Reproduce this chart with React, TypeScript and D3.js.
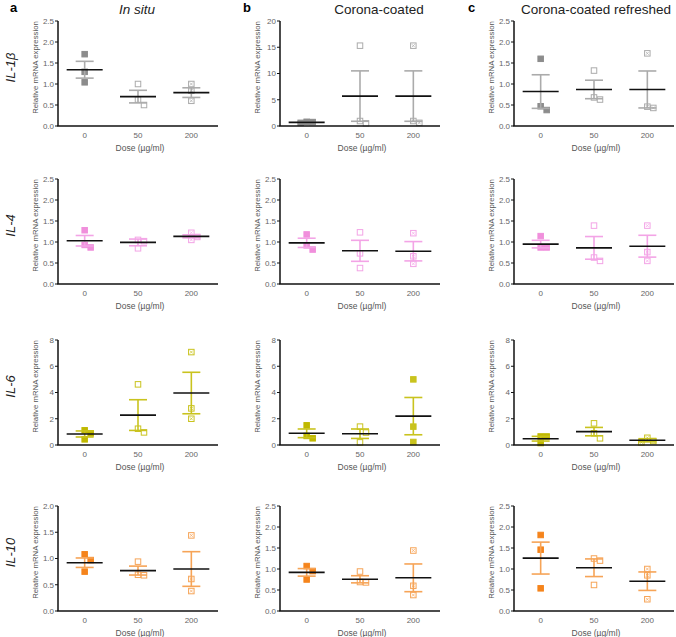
import React from 'react';
import * as d3 from 'd3';

const doses = ['0', '50', '200'];
const columnTitles = ['In situ', 'Corona-coated', 'Corona-coated refreshed'];
const columnLetters = ['a', 'b', 'c'];
const genes = ['IL-1β', 'IL-4', 'IL-6', 'IL-10'];

// y-axis maximum for each gene (row) and condition (column)
const yMaxes = [
  [2.5, 20, 2.5],
  [2.5, 2.5, 2.5],
  [8, 8, 8],
  [2.0, 2.5, 2.5],
];

// replicate values: [column][dose][replicate]
const il1bPoints = [
  [[1.71, 1.29, 1.04], [1.0, 0.63, 0.5], [1.0, 0.84, 0.6]],
  [[0.75, 0.6, 0.8], [15.3, 0.95, 0.5], [15.3, 0.95, 0.6]],
  [[1.6, 0.47, 0.38], [1.32, 0.63, 0.68], [1.73, 0.43, 0.46]],
];
const il1bMeans = [[1.34, 0.7, 0.795], [0.7, 5.7, 5.7], [0.82, 0.87, 0.87]];
const il1bSem = [[0.2, 0.15, 0.115], [0.08, 4.8, 4.8], [0.4, 0.22, 0.44]];

const il4Points = [
  [[1.28, 0.93, 0.87], [1.05, 1.02, 0.85], [1.22, 1.12, 1.05]],
  [[1.18, 0.92, 0.82], [1.23, 0.73, 0.38], [1.21, 0.66, 0.48]],
  [[1.14, 0.87, 0.87], [1.39, 0.63, 0.55], [1.39, 0.76, 0.55]],
];
const il4Means = [[1.03, 0.99, 1.135], [0.98, 0.79, 0.78], [0.95, 0.86, 0.9]];
const il4Sem = [[0.125, 0.08, 0.035], [0.11, 0.25, 0.23], [0.09, 0.27, 0.26]];

const il6Points = [
  [[1.12, 0.89, 0.43], [4.62, 1.24, 0.96], [7.08, 2.79, 2.0]],
  [[1.5, 0.69, 0.51], [1.4, 0.95, 0.2], [5.0, 1.4, 0.23]],
  [[0.65, 0.65, 0.15], [1.65, 0.89, 0.51], [0.55, 0.3, 0.2]],
];
const il6Means = [[0.84, 2.28, 3.96], [0.89, 0.86, 2.2], [0.48, 1.02, 0.36]];
const il6Sem = [[0.23, 1.17, 1.58], [0.33, 0.36, 1.42], [0.18, 0.32, 0.12]];

const il10Points = [
  [[1.08, 0.97, 0.75], [0.94, 0.69, 0.68], [1.44, 0.61, 0.38]],
  [[1.07, 0.95, 0.75], [0.94, 0.68, 0.69], [1.44, 0.6, 0.38]],
  [[1.81, 1.46, 0.54], [1.25, 1.2, 0.62], [1.0, 0.85, 0.28]],
];
const il10Means = [[0.92, 0.77, 0.8], [0.92, 0.755, 0.79], [1.26, 1.03, 0.71]];
const il10Sem = [[0.09, 0.085, 0.33], [0.09, 0.085, 0.33], [0.38, 0.21, 0.22]];

const allPoints = [il1bPoints, il4Points, il6Points, il10Points];
const allMeans = [il1bMeans, il4Means, il6Means, il10Means];
const allSem = [il1bSem, il4Sem, il6Sem, il10Sem];

// styling
const rowColors = [
  { dark: '#8c8c8c', light: '#ababab' },
  { dark: '#f08fdc', light: '#f3a4e6' },
  { dark: '#c0b900', light: '#c9c31e' },
  { dark: '#f5841c', light: '#f6a457' },
];
const colX = [58, 280, 514];
const rowTop = [21, 179, 340, 506];
const plotW = 160;
const plotH = 105;
const font = 'Liberation Sans, Arial, sans-serif';
const sq = 5.5;

function markerKind(row: number, col: number, dose: number) {
  if (dose === 0) return 'filled';
  if (row === 2 && col === 1 && dose === 2) return 'filled';
  return dose === 1 ? 'open' : 'crossed';
}

// spread overlapping replicates sideways, like a Prism scatter
function dodge(ys: number[]) {
  const order = ys.map((y, i) => i).sort((a, b) => ys[a] - ys[b]);
  const placed: { x: number; y: number }[] = [];
  const offs = new Array(ys.length).fill(0);
  order.forEach(i => {
    for (const dx of [0, 6, -6, 12, -12]) {
      if (!placed.some(p => Math.abs(p.y - ys[i]) < 6 && Math.abs(p.x - dx) < 6)) {
        offs[i] = dx;
        placed.push({ x: dx, y: ys[i] });
        break;
      }
    }
  });
  return offs;
}

const Panel = ({ row, col }: { row: number; col: number }) => {
  const x0 = colX[col];
  const y0 = rowTop[row];
  const yMax = yMaxes[row][col];
  const y = d3.scaleLinear().domain([0, yMax]).range([plotH, 0]);
  const x = d3.scalePoint<string>().domain(doses).range([0, plotW]).padding(0.5);
  const ticks = yMax === 20 ? d3.range(0, 21, 5) : yMax === 8 ? d3.range(0, 9, 2) : d3.range(0, yMax + 0.01, 0.5);
  const fmt = yMax === 20 || yMax === 8 ? d3.format('d') : d3.format('.1f');
  const colors = rowColors[row];

  return (
    <g transform={`translate(${x0},${y0})`}>
      {doses.map((d, di) => {
        const cx = x(d) as number;
        const mean = allMeans[row][col][di];
        const sem = allSem[row][col][di];
        const pts = allPoints[row][col][di];
        const pys = pts.map(v => y(v));
        const offs = dodge(pys);
        const kind = markerKind(row, col, di);
        const col0 = di === 0 ? colors.dark : colors.light;
        return (
          <g key={d}>
            {pts.map((v, i) => {
              const px = cx + offs[i];
              const py = pys[i];
              return (
                <g key={i}>
                  <rect
                    x={px - sq / 2}
                    y={py - sq / 2}
                    width={sq}
                    height={sq}
                    fill={kind === 'filled' ? col0 : 'white'}
                    stroke={col0}
                    strokeWidth={1}
                  />
                  {kind === 'crossed' && (
                    <path
                      d={`M${px - 1.5},${py - 1.5}L${px + 1.5},${py + 1.5}M${px + 1.5},${py - 1.5}L${px - 1.5},${py + 1.5}`}
                      stroke={col0}
                      strokeWidth={0.7}
                    />
                  )}
                </g>
              );
            })}
            <g stroke={colors.light} strokeWidth={1.6}>
              <line x1={cx} x2={cx} y1={y(mean + sem)} y2={y(Math.max(0, mean - sem))} />
              <line x1={cx - 9} x2={cx + 9} y1={y(mean + sem)} y2={y(mean + sem)} />
              <line x1={cx - 9} x2={cx + 9} y1={y(mean - sem)} y2={y(mean - sem)} />
            </g>
            <line x1={cx - 18} x2={cx + 18} y1={y(mean)} y2={y(mean)} stroke="#111" strokeWidth={1.6} />
          </g>
        );
      })}
      {/* y axis */}
      <line x1={0} x2={0} y1={0} y2={plotH} stroke="#111" strokeWidth={1.5} />
      {ticks.map(t => (
        <g key={t} transform={`translate(0,${y(t)})`}>
          <line x1={-3} x2={0} stroke="#111" strokeWidth={1} />
          <text x={-4} dy="0.35em" textAnchor="end" fontSize={8} fill="#666" fontFamily={font}>
            {fmt(t)}
          </text>
        </g>
      ))}
      {/* x axis */}
      <line x1={-0.75} x2={plotW} y1={plotH} y2={plotH} stroke="#111" strokeWidth={1.5} />
      {doses.map(d => (
        <text key={d} x={x(d)} y={plotH + 11.5} textAnchor="middle" fontSize={8} fill="#666" fontFamily={font}>
          {d}
        </text>
      ))}
      <text x={plotW / 2 + 2} y={plotH + 25} textAnchor="middle" fontSize={8.5} fill="#555" fontFamily={font}>
        Dose (µg/ml)
      </text>
      <text
        transform={`translate(-20,${plotH / 2 - 6}) rotate(-90)`}
        textAnchor="middle"
        fontSize={7.8}
        fill="#555"
        fontFamily={font}
      >
        Relative mRNA expression
      </text>
    </g>
  );
};

const App = () => {
  const letterX = [10, 243, 468];
  const titleX = [137, 379, 596];
  return (
    <svg width={676} height={637} style={{ position: 'absolute', left: 0, top: 0, background: 'white' }}>
      {columnLetters.map((l, i) => (
        <text key={l} x={letterX[i]} y={12} fontSize={13} fontWeight="bold" fontFamily={font} fill="#000">
          {l}
        </text>
      ))}
      {columnTitles.map((t, i) => (
        <text
          key={t}
          x={titleX[i]}
          y={14}
          textAnchor="middle"
          fontSize={13.5}
          fontStyle={i === 0 ? 'italic' : 'normal'}
          fontFamily={font}
          fill="#222"
        >
          {t}
        </text>
      ))}
      {genes.map((g, r) => (
        <text
          key={g}
          transform={`translate(15,${rowTop[r] + plotH / 2 - 6}) rotate(-90)`}
          textAnchor="middle"
          fontSize={13}
          fontStyle="italic"
          fontFamily={font}
          fill="#222"
        >
          {g}
        </text>
      ))}
      {genes.map((g, r) => columnTitles.map((t, c) => <Panel key={`${r}-${c}`} row={r} col={c} />))}
    </svg>
  );
};

export default App;
